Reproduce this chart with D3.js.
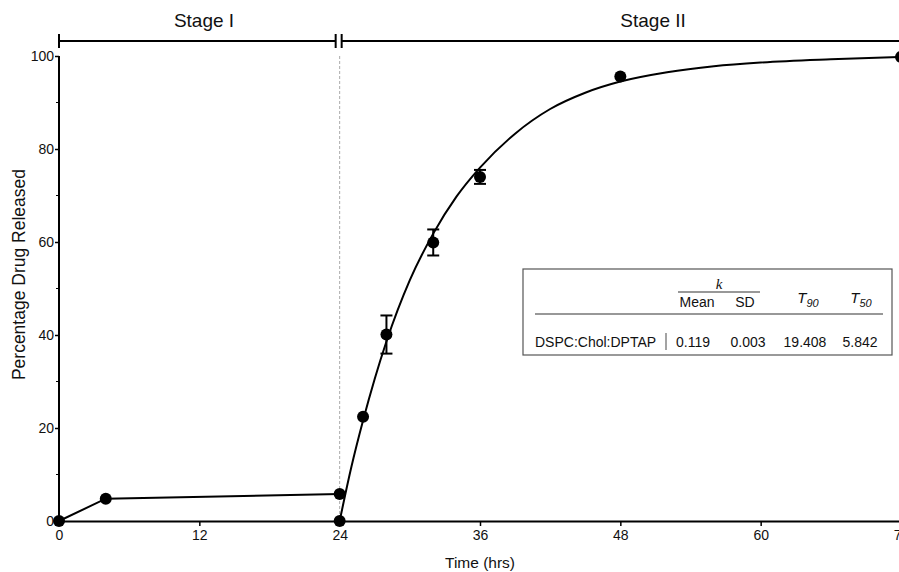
<!DOCTYPE html>
<html>
<head>
<meta charset="utf-8">
<script src="https://cdn.jsdelivr.net/npm/d3@7"></script>
<style>
  body { margin: 0; background: #fff; }
  svg { font-family: "Liberation Sans", Arial, sans-serif; }
</style>
</head>
<body>
<div id="chart"></div>
<script>
// stage I points (joined by straight segments)
var stage1Time = [0, 4, 24];
var stage1Pct = [0, 4.8, 5.8];

// stage II points with error (SD)
var stage2Time = [24, 26, 28, 32, 36, 48, 72];
var stage2Pct = [0, 22.4, 40.1, 59.9, 74.0, 95.6, 99.8];
var stage2Err = [0, 0, 4.1, 2.8, 1.5, 0, 0];

// fitted curve
var fitTime = [24, 25, 26, 27, 28, 30, 32, 34, 36, 39, 42, 45, 48, 52, 56, 60, 66, 72];
var fitPct = [0, 11.6, 21.6, 30.6, 38.6, 51.8, 61.8, 69.8, 76.0, 83.3, 88.6, 92.1, 94.5, 96.5, 97.8, 98.6, 99.3, 99.8];

var xTicks = [0, 12, 24, 36, 48, 60, 72];
var yTicks = [0, 20, 40, 60, 80, 100];
var yMinor = [10, 30, 50, 70, 90];

var stageLabels = ['Stage I', 'Stage II'];
var tableHead = ['Mean', 'SD'];
var tableRow = ['DSPC:Chol:DPTAP', '0.119', '0.003', '19.408', '5.842'];

var W = 899, H = 572;
var svg = d3.select('#chart').append('svg').attr('width', W).attr('height', H);

var x = d3.scaleLinear().domain([0, 72]).range([59, 901]);
var y = d3.scaleLinear().domain([0, 100]).range([521, 56]);

// dashed divider at 24 h
svg.append('line')
  .attr('x1', x(24)).attr('x2', x(24))
  .attr('y1', y(100)).attr('y2', y(0))
  .attr('stroke', '#aaa').attr('stroke-width', 1)
  .attr('stroke-dasharray', '3,2');

// axes
var xAxis = svg.append('g').attr('transform', 'translate(0,' + y(0) + ')')
  .call(d3.axisBottom(x).tickValues(xTicks).tickSize(5).tickPadding(4));
xAxis.select('.domain').attr('stroke-width', 2);
xAxis.selectAll('.tick line').attr('stroke-width', 1.5);
xAxis.selectAll('text').attr('font-size', 14).attr('font-family', 'Liberation Sans, Arial, sans-serif').attr('fill', '#111');

var yAxis = svg.append('g').attr('transform', 'translate(' + x(0) + ',0)')
  .call(d3.axisLeft(y).tickValues(yTicks).tickSize(4).tickPadding(1));
yAxis.select('.domain').attr('stroke-width', 2).attr('d', 'M0,' + y(100) + 'V' + y(0));
yAxis.selectAll('.tick line').attr('stroke-width', 1.5);
yAxis.selectAll('text').attr('font-size', 14).attr('font-family', 'Liberation Sans, Arial, sans-serif').attr('fill', '#111');

svg.append('g').selectAll('line').data(yMinor).enter().append('line')
  .attr('x1', x(0) - 3).attr('x2', x(0))
  .attr('y1', function(d) { return y(d); }).attr('y2', function(d) { return y(d); })
  .attr('stroke', '#000').attr('stroke-width', 1);

// axis titles
svg.append('text')
  .attr('x', x(36)).attr('y', 568)
  .attr('text-anchor', 'middle').attr('font-size', 15.5).attr('fill', '#111')
  .text('Time (hrs)');
svg.append('text')
  .attr('transform', 'translate(25,' + y(53) + ') rotate(-90)')
  .attr('text-anchor', 'middle').attr('font-size', 17.5).attr('fill', '#111')
  .text('Percentage Drug Released');

// stage bar
var barY = 41;
var bar = svg.append('g').attr('stroke', '#000').attr('stroke-width', 2);
bar.append('line').attr('x1', x(0)).attr('x2', x(24) - 4).attr('y1', barY).attr('y2', barY);
bar.append('line').attr('x1', x(24) + 2).attr('x2', W + 5).attr('y1', barY).attr('y2', barY);
[x(0), x(24) - 4, x(24) + 2].forEach(function(px) {
  bar.append('line').attr('x1', px).attr('x2', px).attr('y1', barY - 7).attr('y2', barY + 7);
});
svg.selectAll('.stage').data(stageLabels).enter().append('text')
  .attr('class', 'stage')
  .attr('x', function(d, i) { return i === 0 ? x(12.4) : x(50.8); })
  .attr('y', 27)
  .attr('text-anchor', 'middle').attr('font-size', 19).attr('fill', '#111')
  .text(function(d) { return d; });

// stage I line
var s1 = stage1Time.map(function(t, i) { return [t, stage1Pct[i]]; });
svg.append('path').datum(s1)
  .attr('d', d3.line().x(function(d) { return x(d[0]); }).y(function(d) { return y(d[1]); }))
  .attr('fill', 'none').attr('stroke', '#000').attr('stroke-width', 2);

// fitted curve
var fit = fitTime.map(function(t, i) { return [t, fitPct[i]]; });
svg.append('path').datum(fit)
  .attr('d', d3.line().curve(d3.curveMonotoneX).x(function(d) { return x(d[0]); }).y(function(d) { return y(d[1]); }))
  .attr('fill', 'none').attr('stroke', '#000').attr('stroke-width', 2);

// error bars
var s2 = stage2Time.map(function(t, i) { return { t: t, v: stage2Pct[i], e: stage2Err[i] }; });
var eb = svg.append('g').attr('stroke', '#000').attr('stroke-width', 2);
s2.filter(function(d) { return d.e > 0; }).forEach(function(d) {
  eb.append('line').attr('x1', x(d.t)).attr('x2', x(d.t)).attr('y1', y(d.v - d.e)).attr('y2', y(d.v + d.e));
  [d.v - d.e, d.v + d.e].forEach(function(v) {
    eb.append('line').attr('x1', x(d.t) - 6).attr('x2', x(d.t) + 6).attr('y1', y(v)).attr('y2', y(v));
  });
});

// points
var pts = s1.concat(s2.map(function(d) { return [d.t, d.v]; }));
svg.append('g').selectAll('circle').data(pts).enter().append('circle')
  .attr('cx', function(d) { return x(d[0]); })
  .attr('cy', function(d) { return y(d[1]); })
  .attr('r', 6).attr('fill', '#000');

// inset table
var tb = svg.append('g').attr('font-size', 14).attr('fill', '#111');
tb.append('rect').attr('x', 523).attr('y', 269).attr('width', 369).attr('height', 86)
  .attr('fill', '#fff').attr('stroke', '#555').attr('stroke-width', 1.2);
tb.append('text').attr('x', 719).attr('y', 289).attr('text-anchor', 'middle')
  .attr('font-family', 'Liberation Serif, Times New Roman, serif').attr('font-style', 'italic').attr('font-size', 15).text('k');
tb.append('line').attr('x1', 678).attr('x2', 760).attr('y1', 292).attr('y2', 292).attr('stroke', '#333').attr('stroke-width', 1.2);
tb.selectAll('.hd').data(tableHead).enter().append('text')
  .attr('x', function(d, i) { return [697, 745][i]; }).attr('y', 307)
  .attr('text-anchor', 'middle').text(function(d) { return d; });
[['T', '90', 808], ['T', '50', 861]].forEach(function(h) {
  var t = tb.append('text').attr('x', h[2]).attr('y', 303).attr('text-anchor', 'middle').attr('font-style', 'italic').attr('font-size', 15);
  t.append('tspan').text(h[0]);
  t.append('tspan').attr('dy', 4).attr('font-size', 11).text(h[1]);
});
tb.append('line').attr('x1', 535).attr('x2', 883).attr('y1', 314).attr('y2', 314).attr('stroke', '#333').attr('stroke-width', 1.2);
tb.append('line').attr('x1', 666).attr('x2', 666).attr('y1', 333).attr('y2', 350).attr('stroke', '#666').attr('stroke-width', 1.2);
tb.selectAll('.rw').data(tableRow).enter().append('text')
  .attr('x', function(d, i) { return [535, 693, 748, 805, 860][i]; }).attr('y', 347)
  .attr('text-anchor', function(d, i) { return i === 0 ? 'start' : 'middle'; })
  .text(function(d) { return d; });
</script>
</body>
</html>
